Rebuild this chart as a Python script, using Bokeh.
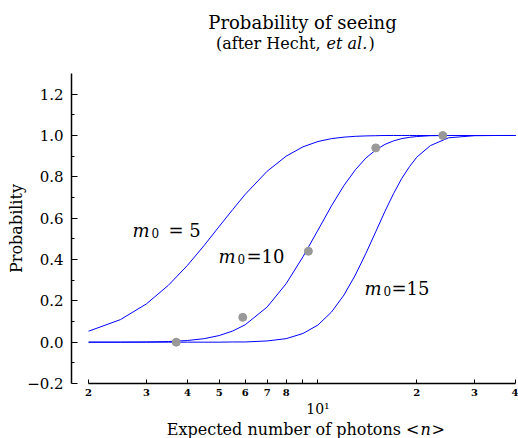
from bokeh.plotting import figure
from bokeh.models import Range1d, FixedTicker, Label
from bokeh.embed import file_html
from bokeh.resources import INLINE

# ---- data ----
n_grid = [2, 2.5, 3, 3.5, 4, 4.5, 5, 5.5, 6, 7, 8, 9, 10, 11, 12, 13, 14, 15,
          16, 17, 18, 19, 20, 22, 25, 30, 35, 40]
p_m5 = [0.053, 0.109, 0.185, 0.275, 0.371, 0.468, 0.560, 0.642, 0.715, 0.827,
        0.900, 0.945, 0.971, 0.985, 0.992, 0.996, 0.998, 0.999,
        1.0, 1.0, 1.0, 1.0, 1.0, 1.0, 1.0, 1.0, 1.0, 1.0]
p_m10 = [0.000, 0.000, 0.001, 0.003, 0.008, 0.017, 0.032, 0.054, 0.084, 0.170,
         0.283, 0.413, 0.542, 0.660, 0.758, 0.834, 0.891, 0.930,
         0.957, 0.974, 0.985, 0.991, 0.995, 0.999, 1.0, 1.0, 1.0, 1.0]
p_m15 = [0.000, 0.000, 0.000, 0.000, 0.000, 0.000, 0.000, 0.001, 0.001, 0.006,
         0.017, 0.042, 0.083, 0.146, 0.228, 0.325, 0.430, 0.534,
         0.633, 0.719, 0.792, 0.849, 0.895, 0.951, 0.989, 0.999, 1.0, 1.0]

obs_n = [3.7, 5.9, 9.35, 15.0, 24.0]
obs_p = [0.0, 0.12, 0.44, 0.94, 1.0]

y_ticks = [-0.2, 0.0, 0.2, 0.4, 0.6, 0.8, 1.0, 1.2]
y_tick_labels = ["\u22120.2", "0.0", "0.2", "0.4", "0.6", "0.8", "1.0", "1.2"]
y_minor = [-0.1, 0.1, 0.3, 0.5, 0.7, 0.9, 1.1]
x_ticks = [2, 3, 4, 5, 6, 7, 8, 9, 10, 20, 30, 40]
x_tick_labels = ["2", "3", "4", "5", "6", "7", "8", "", "", "2", "3", "4"]

X_AXIS_BOUNDS = (2, 40)
Y_AXIS_BOUNDS = (-0.2, 1.3)
Y_AXIS_AT = 1.775      # x value where the (detached) y axis sits
X_AXIS_AT = -0.2       # y value where the x axis sits

FONT = "'DejaVu Serif'"
W, H = 518, 438

# the frame covers the whole canvas; axes are placed inside it
p = figure(width=W, height=H, x_axis_type="log",
           x_range=Range1d(1.078, 40.84), y_range=Range1d(-0.4661, 1.6532),
           output_backend="svg", toolbar_location=None,
           min_border_left=0, min_border_right=0,
           min_border_top=0, min_border_bottom=0)
p.title.visible = False
p.outline_line_color = None
p.xgrid.visible = False
p.ygrid.visible = False

for ys in (p_m5, p_m10, p_m15):
    p.line(n_grid, ys, line_color="#0000ff", line_width=1)
p.scatter(obs_n, obs_p, size=8, fill_color="#999999", line_color="#999999")

# y axis
ya = p.yaxis[0]
ya.fixed_location = Y_AXIS_AT
ya.bounds = Y_AXIS_BOUNDS
ya.ticker = FixedTicker(ticks=y_ticks, minor_ticks=y_minor)
ya.major_label_overrides = {t: l for t, l in zip(y_ticks, y_tick_labels)}
ya.major_tick_in = 6
ya.major_tick_out = 0
ya.minor_tick_in = 3
ya.minor_tick_out = 0
ya.major_label_standoff = 8
ya.major_label_text_font = FONT
ya.major_label_text_font_size = "15px"
ya.major_label_text_color = "black"
ya.axis_label = "Probability"
ya.axis_label_text_font = FONT
ya.axis_label_text_font_style = "normal"
ya.axis_label_text_font_size = "16px"
ya.axis_label_text_color = "black"
ya.axis_label_standoff = -2
ya.axis_line_width = 1.5
ya.axis_line_color = "black"
ya.major_tick_line_color = "black"
ya.minor_tick_line_color = "black"

# x axis
xa = p.xaxis[0]
xa.fixed_location = X_AXIS_AT
xa.bounds = X_AXIS_BOUNDS
xa.ticker = FixedTicker(ticks=x_ticks, minor_ticks=[])
xa.major_label_overrides = {t: l for t, l in zip(x_ticks, x_tick_labels)}
xa.major_tick_in = 4
xa.major_tick_out = 0
xa.minor_tick_in = 0
xa.minor_tick_out = 0
xa.major_label_standoff = 5
xa.major_label_text_font = FONT
xa.major_label_text_font_style = "bold"
xa.major_label_text_font_size = "10px"
xa.major_label_text_color = "black"
xa.axis_line_width = 1.5
xa.axis_line_color = "black"
xa.major_tick_line_color = "black"


def lab(x, y, text, size, style="normal", align="left"):
    # x, y are page pixels measured from the top-left corner
    p.add_layout(Label(x=x, y=H - y, x_units="screen", y_units="screen", text=text,
                       text_font=FONT, text_font_size=size, text_font_style=style,
                       text_align=align, text_baseline="alphabetic",
                       text_color="black"))

# decade label under the x axis at n = 10
p.add_layout(Label(x=10, y=H - 408, x_units="data", y_units="screen", text="10\u00b9",
                   text_font=FONT, text_font_size="14px", text_align="center",
                   text_baseline="alphabetic", text_color="black"))

# titles
lab(302, 22, "Probability of seeing", "18px", align="center")
lab(320, 43, "(after Hecht,", "16px", align="right")
lab(326, 43, "et al.", "16px", style="italic")
lab(368, 43, ")", "16px")

# x axis label
lab(419, 429, "Expected number of photons <", "16px", align="right")
lab(420, 429, "n", "16px", style="italic")
lab(431, 429, ">", "16px")

# curve labels: (m left, baseline, zero left, rest left, rest text)
curve_labels = [(132, 230, 151, 168, "= 5"),
                (218, 256, 237, 246, "=10"),
                (364, 288, 383, 391, "=15")]
for mx, base, zx, rx, rest in curve_labels:
    lab(mx, base, "m", "18px", style="italic")
    lab(zx, base + 2, "0", "12px")
    lab(rx, base, rest, "18px")

open("out.html", "w").write(file_html(p, INLINE))
